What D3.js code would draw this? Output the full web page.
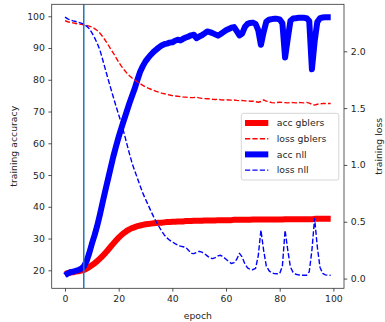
<!DOCTYPE html>
<html>
<head>
<meta charset="utf-8">
<script src="https://d3js.org/d3.v7.min.js"></script>
<style>
  body { margin: 0; background: #fff; }
  svg { display: block; font-family: "DejaVu Sans", sans-serif; }
  .tick text { font-size: 9.3px; fill: #262626; }
  .lbl { font-size: 9.3px; fill: #262626; }
</style>
</head>
<body>
<svg width="385" height="322"></svg>
<script>
// epochs 0..99
var epochs = d3.range(100);

var accGblers = [
  18.9, 19.1, 19.3, 19.4, 19.6, 19.7, 19.9, 20.1, 20.5, 21.0,
  21.6, 22.2, 22.9, 23.7, 24.5, 25.4, 26.4, 27.4, 28.4, 29.4,
  30.3, 31.1, 31.8, 32.4, 32.9, 33.3, 33.6, 33.9, 34.1, 34.3,
  34.5, 34.6, 34.7, 34.8, 34.9, 35.0, 35.0, 35.1, 35.2, 35.2,
  35.3, 35.3, 35.4, 35.4, 35.4, 35.5, 35.5, 35.5, 35.6, 35.6,
  35.6, 35.6, 35.7, 35.7, 35.7, 35.7, 35.7, 35.8, 35.8, 35.8,
  35.8, 35.8, 35.8, 35.9, 35.9, 35.9, 35.9, 35.9, 35.9, 35.9,
  36.0, 36.0, 36.0, 36.0, 36.0, 36.0, 36.0, 36.0, 36.0, 36.0,
  36.0, 36.0, 36.1, 36.1, 36.1, 36.1, 36.1, 36.1, 36.1, 36.1,
  36.1, 36.1, 36.1, 36.2, 36.2, 36.2, 36.2, 36.2, 36.2, 36.2
];

var lossGblers = [
  2.270, 2.260, 2.255, 2.250, 2.245, 2.240, 2.237, 2.233, 2.228, 2.222,
  2.214, 2.200, 2.183, 2.160, 2.130, 2.097, 2.060, 2.022, 1.985, 1.945,
  1.905, 1.870, 1.838, 1.810, 1.785, 1.765, 1.748, 1.730, 1.715, 1.700,
  1.687, 1.676, 1.666, 1.656, 1.647, 1.640, 1.632, 1.626, 1.620, 1.615,
  1.610, 1.607, 1.604, 1.601, 1.598, 1.597, 1.594, 1.592, 1.593, 1.596,
  1.590, 1.586, 1.584, 1.582, 1.583, 1.578, 1.576, 1.578, 1.574, 1.572,
  1.574, 1.572, 1.570, 1.572, 1.568, 1.566, 1.568, 1.564, 1.566, 1.560,
  1.562, 1.556, 1.552, 1.558, 1.572, 1.562, 1.556, 1.548, 1.546, 1.550,
  1.552, 1.550, 1.548, 1.546, 1.550, 1.548, 1.546, 1.550, 1.548, 1.546,
  1.550, 1.544, 1.534, 1.527, 1.534, 1.538, 1.540, 1.541, 1.540, 1.541
];

var accNll = [
  18.4, 19.0, 19.4, 19.6, 19.8, 20.1, 20.5, 21.2, 22.8, 25.3,
  28.3, 31.0, 34.0, 37.5, 41.3, 45.0, 48.6, 52.2, 55.8, 59.0,
  62.0, 64.8, 67.4, 70.0, 72.6, 75.0, 77.3, 80.0, 82.5, 84.3,
  85.8, 86.9, 87.9, 88.8, 89.5, 90.2, 90.8, 91.2, 91.4, 91.7,
  91.8, 92.3, 92.6, 92.4, 92.9, 93.3, 93.6, 94.0, 94.2, 93.1,
  93.6, 94.0, 94.6, 95.2, 95.0, 94.7, 94.3, 93.9, 94.4, 95.0,
  95.6, 96.0, 96.4, 96.6, 95.3, 94.0, 94.5, 96.6, 97.6, 97.9,
  98.0, 97.6, 95.6, 91.0, 95.0, 98.3, 98.9, 99.1, 99.2, 99.2,
  99.0, 97.8, 87.0, 93.0, 98.6, 99.3, 99.4, 99.5, 99.5, 99.5,
  99.4, 98.5, 83.3, 92.0, 98.2, 99.4, 99.6, 99.7, 99.7, 99.7
];

var lossNll = [
  2.300, 2.285, 2.275, 2.268, 2.262, 2.255, 2.248, 2.238, 2.222, 2.200,
  2.165, 2.120, 2.070, 2.012, 1.930, 1.845, 1.760, 1.678, 1.598, 1.518,
  1.442, 1.368, 1.280, 1.190, 1.100, 1.015, 0.948, 0.882, 0.815, 0.752,
  0.698, 0.647, 0.595, 0.545, 0.500, 0.458, 0.418, 0.384, 0.358, 0.338,
  0.322, 0.308, 0.295, 0.285, 0.280, 0.275, 0.250, 0.222, 0.220, 0.230,
  0.240, 0.232, 0.218, 0.200, 0.180, 0.176, 0.185, 0.200, 0.205, 0.190,
  0.170, 0.150, 0.133, 0.140, 0.170, 0.222, 0.190, 0.130, 0.095, 0.082,
  0.078, 0.090, 0.200, 0.426, 0.250, 0.110, 0.070, 0.050, 0.044, 0.042,
  0.045, 0.110, 0.425, 0.250, 0.100, 0.055, 0.038, 0.032, 0.030, 0.029,
  0.029, 0.060, 0.250, 0.530, 0.280, 0.100, 0.045, 0.033, 0.030, 0.028
];

var xTicks = [0, 20, 40, 60, 80, 100];
var accTicks = [20, 30, 40, 50, 60, 70, 80, 90, 100];
var lossTicks = [0.0, 0.5, 1.0, 1.5, 2.0];
var markEpoch = 7;

var legendItems = [
  {label: "acc gblers", color: "#ff0000", dashed: false},
  {label: "loss gblers", color: "#ff0000", dashed: true},
  {label: "acc nll", color: "#0000ff", dashed: false},
  {label: "loss nll", color: "#0000ff", dashed: true}
];

var L = 51.7, R = 344, T = 4.3, B = 288.3;
var thick = 6.0, thin = 1.4, dash = "5.2,2.2";

function padded(arrs) {
  var lo = d3.min(arrs, function(a) { return d3.min(a); });
  var hi = d3.max(arrs, function(a) { return d3.max(a); });
  var p = (hi - lo) * 0.05;
  return [lo - p, hi + p];
}

var svg = d3.select("svg");

var x = d3.scaleLinear().domain(padded([[0, 99]])).range([L, R]);
var yAcc = d3.scaleLinear().domain(padded([accGblers, accNll])).range([B, T]);
var yLoss = d3.scaleLinear().domain(padded([lossGblers, lossNll])).range([B, T]);

svg.append("clipPath").attr("id", "plot")
  .append("rect").attr("x", L).attr("y", T).attr("width", R - L).attr("height", B - T);

var plot = svg.append("g").attr("clip-path", "url(#plot)");

function drawLine(vals, ys, color, w, dashed) {
  var line = d3.line()
    .x(function(d, i) { return x(epochs[i]); })
    .y(function(d) { return ys(d); });
  plot.append("path")
    .datum(vals)
    .attr("d", line)
    .attr("fill", "none")
    .attr("stroke", color)
    .attr("stroke-width", w)
    .attr("stroke-linejoin", "round")
    .attr("stroke-dasharray", dashed ? dash : null);
}

drawLine(accGblers, yAcc, "#ff0000", thick, false);
drawLine(accNll, yAcc, "#0000ff", thick, false);
drawLine(lossGblers, yLoss, "#ff0000", thin, true);
drawLine(lossNll, yLoss, "#0000ff", thin, true);

plot.append("line")
  .attr("x1", x(markEpoch)).attr("x2", x(markEpoch))
  .attr("y1", T).attr("y2", B)
  .attr("stroke", "#1f77b4").attr("stroke-width", 1.5);

// axes
function styleAxis(g) {
  g.select(".domain").remove();
  g.selectAll(".tick line").attr("stroke", "#262626").attr("stroke-width", 0.8);
  g.selectAll(".tick text").attr("font-family", "DejaVu Sans, sans-serif");
}

svg.append("g")
  .attr("transform", "translate(0," + B + ")")
  .call(d3.axisBottom(x).tickValues(xTicks).tickSize(3.3).tickPadding(3.5).tickFormat(d3.format("d")))
  .call(styleAxis);

svg.append("g")
  .attr("transform", "translate(" + L + ",0)")
  .call(d3.axisLeft(yAcc).tickValues(accTicks).tickSize(3.3).tickPadding(3.5).tickFormat(d3.format("d")))
  .call(styleAxis);

svg.append("g")
  .attr("transform", "translate(" + R + ",0)")
  .call(d3.axisRight(yLoss).tickValues(lossTicks).tickSize(3.3).tickPadding(3.5).tickFormat(d3.format(".1f")))
  .call(styleAxis);

svg.append("rect")
  .attr("x", L).attr("y", T).attr("width", R - L).attr("height", B - T)
  .attr("fill", "none").attr("stroke", "#333").attr("stroke-width", 0.8);

// axis labels
svg.append("text").attr("class", "lbl")
  .attr("text-anchor", "middle")
  .attr("x", (L + R) / 2).attr("y", 319)
  .text("epoch");

svg.append("text").attr("class", "lbl")
  .attr("text-anchor", "middle")
  .attr("transform", "translate(16.8," + (T + B) / 2 + ") rotate(-90)")
  .text("training accuracy");

svg.append("text").attr("class", "lbl")
  .attr("text-anchor", "middle")
  .attr("transform", "translate(382," + (T + B) / 2 + ") rotate(-90)")
  .text("training loss");

// legend
var lg = svg.append("g");
lg.append("rect")
  .attr("x", 241.3).attr("y", 113.3).attr("width", 97.5).attr("height", 66.7)
  .attr("rx", 2).attr("fill", "#fff").attr("fill-opacity", 0.8)
  .attr("stroke", "#cccccc").attr("stroke-width", 0.8);

var rows = lg.selectAll("g.row").data(legendItems).enter().append("g")
  .attr("transform", function(d, i) { return "translate(0," + (123 + i * 15.7) + ")"; });

rows.append("line")
  .attr("x1", 245).attr("x2", 268.3)
  .attr("stroke", function(d) { return d.color; })
  .attr("stroke-width", function(d) { return d.dashed ? thin : thick; })
  .attr("stroke-dasharray", function(d) { return d.dashed ? dash : null; });

rows.append("text").attr("class", "lbl")
  .attr("x", 276.7).attr("y", 3.3)
  .text(function(d) { return d.label; });
</script>
</body>
</html>
